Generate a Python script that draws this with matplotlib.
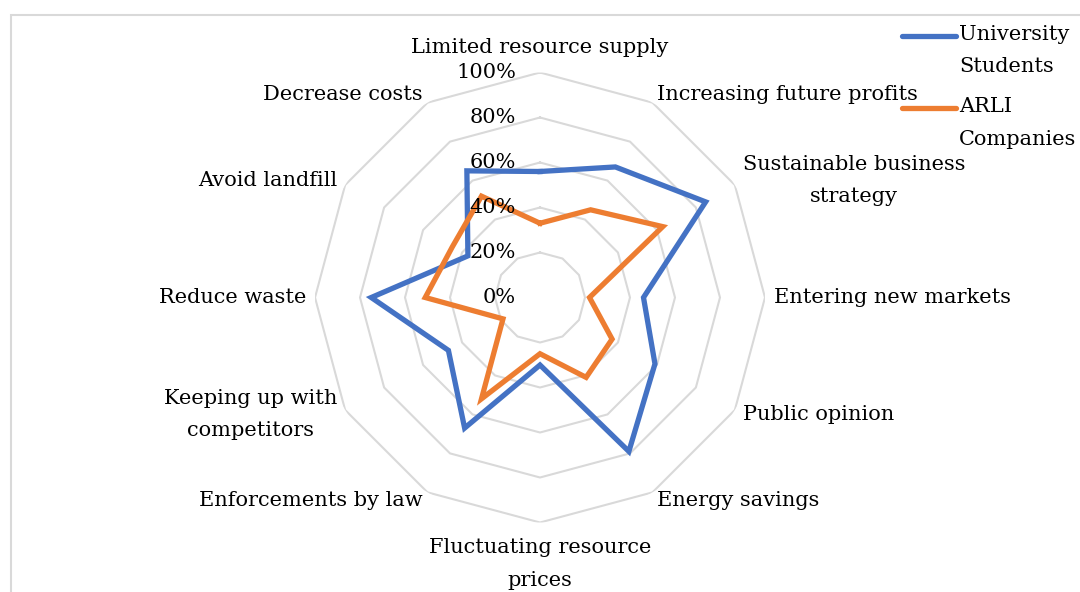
import numpy as np
import matplotlib
matplotlib.use("Agg")
import matplotlib.pyplot as plt
from matplotlib.patches import Rectangle
from matplotlib.lines import Line2D

# categories, clockwise from the top
categories = [
    "Limited resource supply",
    "Increasing future profits",
    "Sustainable business\nstrategy",
    "Entering new markets",
    "Public opinion",
    "Energy savings",
    "Fluctuating resource\nprices",
    "Enforcements by law",
    "Keeping up with\ncompetitors",
    "Reduce waste",
    "Avoid landfill",
    "Decrease costs",
]
students = [56, 67, 85, 46, 59, 79, 30, 67, 47, 75, 37, 65]
arli = [33, 45, 63, 22, 37, 41, 25, 52, 19, 51, 45, 52]
series_names = ["University\nStudents", "ARLI\nCompanies"]
levels = [0, 20, 40, 60, 80, 100]
level_labels = ["0%", "20%", "40%", "60%", "80%", "100%"]

BLUE = "#4472C4"
ORANGE = "#ED7D31"
GRID = "#D9D9D9"
FONT = "DejaVu Serif"
FS = 15
LS = 1.9

plt.rcParams["font.family"] = FONT

fig = plt.figure(figsize=(10.8, 5.92), dpi=100)
# outer chart frame
fig.patches.append(Rectangle((11 / 1080, -0.05), 1.2, 1 - 15 / 592 + 0.05,
                             transform=fig.transFigure, fill=False,
                             edgecolor=GRID, linewidth=1.5))

# polar axes centred at (540, 297.5) px with radius 225 px
cx, cy, R = 540, 297.5, 225
ax = fig.add_axes([(cx - R) / 1080, (592 - cy - R) / 592, 2 * R / 1080, 2 * R / 592],
                  projection="polar")
ax.set_theta_offset(np.pi / 2)
ax.set_theta_direction(-1)
ax.set_ylim(0, 100)
ax.grid(False)
ax.spines["polar"].set_visible(False)
ax.set_xticks([])
ax.set_yticks([])
ax.patch.set_alpha(0)

n = len(categories)
theta = np.arange(n) * 2 * np.pi / n
theta_c = np.append(theta, theta[0])

# polygon grid rings
for lv in levels[1:]:
    ax.plot(theta_c, [lv] * (n + 1), color=GRID, lw=1.5, zorder=1)

colors = [BLUE, ORANGE]
for vals, col in zip([students, arli], colors):
    ax.plot(theta_c, vals + vals[:1], color=col, lw=3.8, zorder=3,
            solid_joinstyle="miter")

# radial value labels
for lv, txt in zip(levels, level_labels):
    ax.annotate(txt, xy=(0, lv), xytext=(-24, 0), textcoords="offset pixels",
                ha="right", va="center", fontsize=FS, zorder=4)

# category labels
for t, lab in zip(theta, categories):
    deg = np.degrees(t)
    kw = dict(fontsize=FS, linespacing=LS, multialignment="center")
    if np.isclose(deg, 0):
        ax.text(t, 107, lab, ha="center", va="bottom", **kw)
    elif np.isclose(deg, 180):
        ax.text(t, 107, lab, ha="center", va="top", **kw)
    elif deg < 180:
        ax.text(t, 104, lab, ha="left", va="center", **kw)
    else:
        ax.text(t, 104, lab, ha="right", va="center", **kw)

# legend: handle aligned with the first line of each entry
for i, (name, col) in enumerate(zip(series_names, colors)):
    y = 1 - (36 + 72 * i) / 592
    fig.add_artist(Line2D([902 / 1080, 956 / 1080], [y, y], color=col, lw=3.8,
                          solid_capstyle="round", transform=fig.transFigure))
    fig.text(959 / 1080, y + 11 / 592, name, ha="left", va="top",
             fontsize=FS, linespacing=LS)

fig.savefig("out.png", dpi=100)
